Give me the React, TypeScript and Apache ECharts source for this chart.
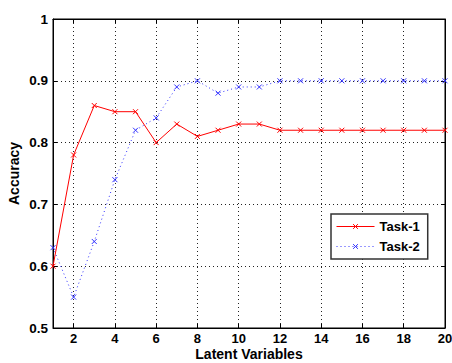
import React, { useEffect, useRef } from "react";
import * as echarts from "echarts";

const xValues = [1, 2, 3, 4, 5, 6, 7, 8, 9, 10, 11, 12, 13, 14, 15, 16, 17, 18, 19, 20];
const task1 = [0.6, 0.78, 0.86, 0.85, 0.85, 0.8, 0.83, 0.81, 0.82, 0.83, 0.83, 0.82, 0.82, 0.82, 0.82, 0.82, 0.82, 0.82, 0.82, 0.82];
const task2 = [0.63, 0.55, 0.64, 0.74, 0.82, 0.84, 0.89, 0.9, 0.88, 0.89, 0.89, 0.9, 0.9, 0.9, 0.9, 0.9, 0.9, 0.9, 0.9, 0.9];
const seriesNames = ["Task-1", "Task-2"];

const X_MARK = "path://M0,0L10,10M10,0L0,10";
const FONT = "Liberation Sans, Arial, sans-serif";

export default function App() {
  const ref = useRef<HTMLDivElement>(null);
  useEffect(() => {
    if (!ref.current) return;
    const chart = echarts.init(ref.current, null, { renderer: "svg" });
    const labelStyle = { fontFamily: FONT, fontWeight: "bold" as const, fontSize: 13, color: "#000" };
    const gridLine = { show: true, lineStyle: { color: "#222", type: [1, 3] as any, width: 1 } };
    chart.setOption({
      animation: false,
      backgroundColor: "#fff",
      grid: {
        left: 53, top: 19, right: 7, bottom: 35,
        containLabel: false,
        outerBoundsMode: "none",
        show: true, borderColor: "#000", borderWidth: 1, backgroundColor: "transparent",
      },
      legend: {
        orient: "vertical",
        left: 331,
        top: 214,
        data: seriesNames,
        itemWidth: 38,
        itemHeight: 6,
        itemGap: 7,
        padding: [6, 8, 6, 5],
        borderColor: "#333",
        borderWidth: 1.5,
        backgroundColor: "#fff",
        lineStyle: { width: 1 },
        itemStyle: { borderWidth: 1 },
        textStyle: { ...labelStyle, fontSize: 13 },
      },
      xAxis: [
        {
          type: "value",
          min: 1,
          max: 20,
          splitNumber: 10,
          name: "Latent Variables",
          nameLocation: "middle",
          nameGap: 19,
          nameMoveOverlap: false,
          nameTextStyle: { ...labelStyle, fontSize: 14, lineHeight: 14 },
          axisLine: { show: true, onZero: false, lineStyle: { color: "#000" } },
          axisTick: { show: true, inside: true, length: 4, lineStyle: { color: "#000" } },
          axisLabel: { ...labelStyle, margin: 4, formatter: (v: number) => (v % 2 === 0 ? String(v) : "") },
          splitLine: gridLine,
        },
        {
          type: "value",
          position: "top",
          min: 1,
          max: 20,
          splitNumber: 10,
          axisLine: { show: true, onZero: false, lineStyle: { color: "#000" } },
          axisTick: { show: true, inside: true, length: 4, lineStyle: { color: "#000" } },
          axisLabel: { show: false },
          splitLine: { show: false },
        },
      ],
      yAxis: [
        {
          type: "value",
          min: 0.5,
          max: 1,
          interval: 0.1,
          name: "Accuracy",
          nameLocation: "middle",
          nameGap: 32,
          nameMoveOverlap: false,
          nameTextStyle: { ...labelStyle, fontSize: 14 },
          axisLine: { show: true, onZero: false, lineStyle: { color: "#000" } },
          axisTick: { show: true, inside: true, length: 4, lineStyle: { color: "#000" } },
          axisLabel: { ...labelStyle, fontSize: 13.5, margin: 5, formatter: (v: number) => String(Math.round(v * 10) / 10) },
          splitLine: gridLine,
        },
        {
          type: "value",
          position: "right",
          min: 0.5,
          max: 1,
          interval: 0.1,
          axisLine: { show: true, onZero: false, lineStyle: { color: "#000" } },
          axisTick: { show: true, inside: true, length: 4, lineStyle: { color: "#000" } },
          axisLabel: { show: false },
          splitLine: { show: false },
        },
      ],
      series: [
        {
          name: seriesNames[0],
          type: "line",
          data: xValues.map((x, i) => [x, task1[i]]),
          symbol: X_MARK,
          symbolSize: 5,
          showAllSymbol: true,
          lineStyle: { color: "#ff0000", width: 1 },
          itemStyle: { color: "#ff0000", borderColor: "#ff0000", borderWidth: 1 },
          z: 3,
        },
        {
          name: seriesNames[1],
          type: "line",
          data: xValues.map((x, i) => [x, task2[i]]),
          symbol: X_MARK,
          symbolSize: 5,
          showAllSymbol: true,
          lineStyle: { color: "#3333ff", width: 1, type: [1, 3] },
          itemStyle: { color: "#3333ff", borderColor: "#3333ff", borderWidth: 1 },
          z: 2,
        },
      ],
    });
    return () => chart.dispose();
  }, []);
  return <div ref={ref} style={{ position: "absolute", left: 0, top: 0, width: 452, height: 363 }} />;
}
